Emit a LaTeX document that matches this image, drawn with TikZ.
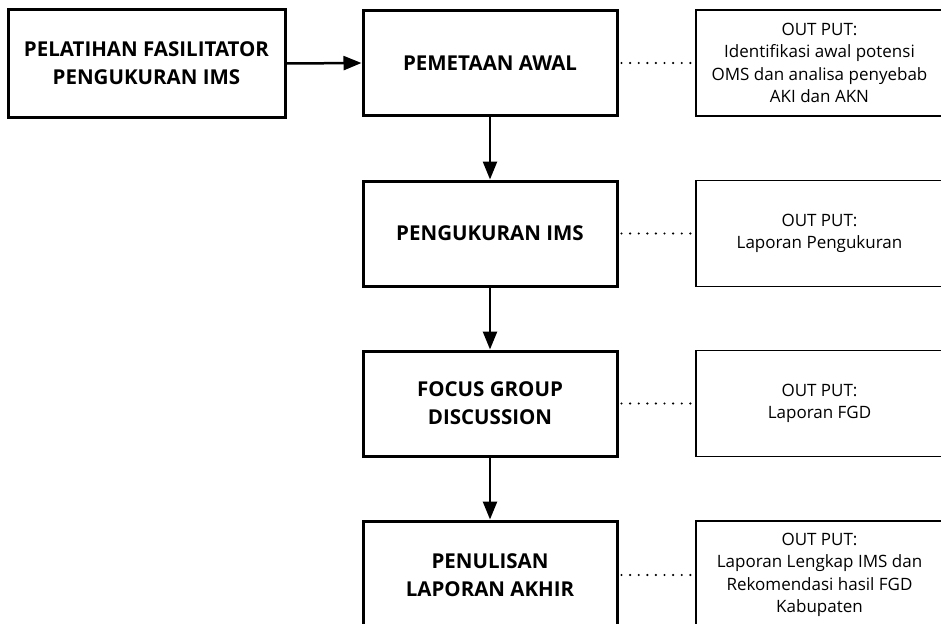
\documentclass[tikz,border=0pt]{standalone}
\usepackage{fontspec}
\setmainfont{Open Sans}
\usetikzlibrary{arrows.meta}
\tikzset{
  mainbox/.style={draw, line width=3pt, minimum width=254pt, minimum height=105pt, align=center, font=\fontsize{20.5}{28}\selectfont\bfseries, inner sep=0pt},
  startbox/.style={mainbox, minimum width=277pt, minimum height=107pt},
  outbox/.style={draw, line width=1.2pt, minimum width=247pt, minimum height=106pt, align=center, font=\fontsize{17}{22.5}\selectfont, inner sep=0pt},
  flow/.style={line width=2.5pt, -{Triangle[length=18pt,width=14pt]}},
  link/.style={line width=2.4pt, dash pattern=on 0pt off 8.6pt, dash phase=-3pt, line cap=round}
}
\begin{document}
\begin{tikzpicture}[x=1pt,y=-1pt]
\useasboundingbox (0,0) rectangle (941,623);
\clip (0,0) rectangle (941,623);
\fill[white] (0,0) rectangle (941,623);
\node[startbox] (start) at (146.5,63.5) {PELATIHAN FASILITATOR\\PENGUKURAN IMS};
\node[mainbox] (b1) at (490,63) {PEMETAAN AWAL};
\node[mainbox] (b2) at (490,233.5) {PENGUKURAN IMS};
\node[mainbox] (b3) at (490,403.5) {FOCUS GROUP\\DISCUSSION};
\node[mainbox, minimum height=108pt] (b4) at (490,575) {PENULISAN\\LAPORAN AKHIR};
\node[outbox] (o1) at (819.5,63) {OUT PUT:\\Identifikasi awal potensi\\OMS dan analisa penyebab\\AKI dan AKN};
\node[outbox] (o2) at (819.5,233.5) {OUT PUT:\\Laporan Pengukuran};
\node[outbox] (o3) at (819.5,403.5) {OUT PUT:\\Laporan FGD};
\node[outbox, minimum height=108pt] (o4) at (819.5,575) {OUT PUT:\\Laporan Lengkap IMS dan\\Rekomendasi hasil FGD\\Kabupaten};
\draw[flow] (start.east) -- (b1.west);
\draw[flow] (b1.south) -- (b2.north);
\draw[flow] (b2.south) -- (b3.north);
\draw[flow] (b3.south) -- (b4.north);
\draw[link] (b1.east) -- (o1.west);
\draw[link] (b2.east) -- (o2.west);
\draw[link] (b3.east) -- (o3.west);
\draw[link] (b4.east) -- (o4.west);
\end{tikzpicture}
\end{document}
